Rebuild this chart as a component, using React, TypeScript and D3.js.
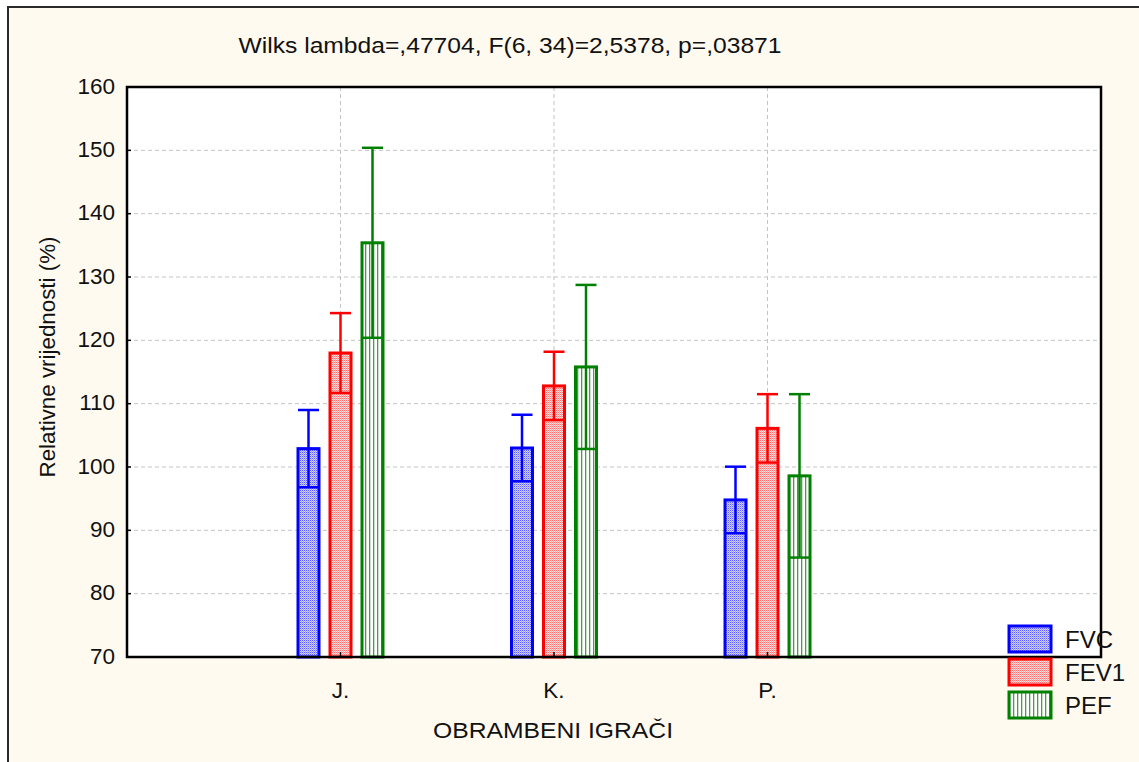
import React from "react";
import * as d3 from "d3";

const categories = ["J.", "K.", "P."];
const seriesNames = ["FVC", "FEV1", "PEF"];
const fvcMean = [102.9, 103.0, 94.8];
const fvcErr = [6.1, 5.25, 5.25];
const fev1Mean = [118.0, 112.8, 106.1];
const fev1Err = [6.3, 5.4, 5.4];
const pefMean = [135.4, 115.8, 98.6];
const pefErr = [15.0, 12.95, 12.9];
const yTicks = [70, 80, 90, 100, 110, 120, 130, 140, 150, 160];
const title = "Wilks lambda=,47704, F(6, 34)=2,5378, p=,03871";
const yTitle = "Relativne vrijednosti (%)";
const xTitle = "OBRAMBENI IGRAČI";

const W = 1139;
const H = 762;
const plot = { left: 127, right: 1101, top: 87, bottom: 657 };
const FONT = "'Liberation Sans', Arial, sans-serif";

const series = [
  { name: seriesNames[0], mean: fvcMean, err: fvcErr, color: "#0000ff", fill: "url(#patBlue)" },
  { name: seriesNames[1], mean: fev1Mean, err: fev1Err, color: "#ff0000", fill: "url(#patRed)" },
  { name: seriesNames[2], mean: pefMean, err: pefErr, color: "#008000", fill: "url(#patGreen)" },
];

export default function App() {
  const y = d3.scaleLinear().domain([70, 160]).range([plot.bottom, plot.top]);
  const x = d3.scaleLinear().domain([-1, 3.562]).range([plot.left, plot.right]);
  const barW = 21;
  const step = 32;

  return (
    <div style={{ position: "absolute", left: 0, top: 0 }}>
      <svg width={W} height={H} style={{ display: "block" }}>
        <defs>
          <pattern id="patBlue" width="2" height="2" patternUnits="userSpaceOnUse">
            <rect width="2" height="2" fill="#d0d0ff" />
            <rect x="0" y="0" width="1" height="1" fill="#5a5aff" />
            <rect x="1" y="1" width="1" height="1" fill="#a0a0ff" />
          </pattern>
          <pattern id="patRed" width="2" height="2" patternUnits="userSpaceOnUse">
            <rect width="2" height="2" fill="#ffdcdc" />
            <rect x="0" y="0" width="1" height="1" fill="#ff7070" />
            <rect x="1" y="1" width="1" height="1" fill="#ffaaaa" />
          </pattern>
          <pattern id="patGreen" width="4" height="4" patternUnits="userSpaceOnUse">
            <rect width="4" height="4" fill="#ffffff" />
            <rect x="1" y="0" width="1.3" height="4" fill="#4c9a4c" />
          </pattern>
        </defs>
        <rect x={0} y={0} width={W} height={H} fill="#ffffff" />
        <rect x={8} y={7} width={W + 20} height={H + 20} fill="#fffaef" stroke="#2a2a2a" strokeWidth={2} />
        <rect x={plot.left} y={plot.top} width={plot.right - plot.left} height={plot.bottom - plot.top} fill="#ffffff" />

        {yTicks.slice(1, -1).map((t) => (
          <line key={"gy" + t} x1={plot.left} x2={plot.right} y1={y(t)} y2={y(t)} stroke="#c4c4c4" strokeWidth={1} strokeDasharray="4,3" />
        ))}
        {categories.map((c, i) => (
          <line key={"gx" + c} x1={x(i)} x2={x(i)} y1={plot.top} y2={plot.bottom} stroke="#c4c4c4" strokeWidth={1} strokeDasharray="4,3" />
        ))}

        {series.map((s, si) =>
          categories.map((c, i) => {
            const cx = x(i) + (si - 1) * step;
            const x0 = cx - barW / 2;
            const top = y(s.mean[i]);
            const hi = y(s.mean[i] + s.err[i]);
            const lo = y(s.mean[i] - s.err[i]);
            return (
              <g key={s.name + c}>
                <rect x={x0} y={top} width={barW} height={plot.bottom - top} fill={s.fill} stroke={s.color} strokeWidth={3} />
                <line x1={cx} x2={cx} y1={hi} y2={lo} stroke={s.color} strokeWidth={2.5} />
                <line x1={x0} x2={x0 + barW} y1={hi} y2={hi} stroke={s.color} strokeWidth={2.5} />
                <line x1={x0} x2={x0 + barW} y1={lo} y2={lo} stroke={s.color} strokeWidth={2.5} />
              </g>
            );
          })
        )}

        <rect x={plot.left} y={plot.top} width={plot.right - plot.left} height={plot.bottom - plot.top} fill="none" stroke="#000000" strokeWidth={2.5} />

        {yTicks.map((t) => (
          <g key={"yt" + t}>
            <line x1={plot.left} x2={plot.left + 4} y1={y(t)} y2={y(t)} stroke="#000" strokeWidth={1.5} />
            <text x={plot.left - 12} y={y(t)} dy="0.3em" textAnchor="end" fontFamily={FONT} fontSize={22.5} fill="#111">
              {t}
            </text>
          </g>
        ))}
        {categories.map((c, i) => (
          <g key={"xt" + c}>
            <line x1={x(i)} x2={x(i)} y1={plot.bottom} y2={plot.bottom - 5} stroke="#000" strokeWidth={1.5} />
            <text x={x(i)} y={698} textAnchor="middle" fontFamily={FONT} fontSize={22.5} fill="#111">
              {c}
            </text>
          </g>
        ))}

        <text x={510} y={53} textAnchor="middle" fontFamily={FONT} fontSize={22} textLength={543} lengthAdjust="spacingAndGlyphs" fill="#111">
          {title}
        </text>
        <text transform={`translate(55, 357) rotate(-90)`} textAnchor="middle" fontFamily={FONT} fontSize={22} textLength={241} lengthAdjust="spacingAndGlyphs" fill="#111">
          {yTitle}
        </text>
        <text x={553} y={738} textAnchor="middle" fontFamily={FONT} fontSize={22} textLength={240} lengthAdjust="spacingAndGlyphs" fill="#111">
          {xTitle}
        </text>

        {series.map((s, si) => {
          const ly = 626 + si * 33;
          return (
            <g key={"lg" + s.name}>
              <rect x={1009} y={ly} width={42} height={26} fill={s.fill} stroke={s.color} strokeWidth={3} />
              <text x={1065} y={ly + 13} dy="0.36em" fontFamily={FONT} fontSize={24} fill="#111">
                {s.name}
              </text>
            </g>
          );
        })}
      </svg>
    </div>
  );
}
